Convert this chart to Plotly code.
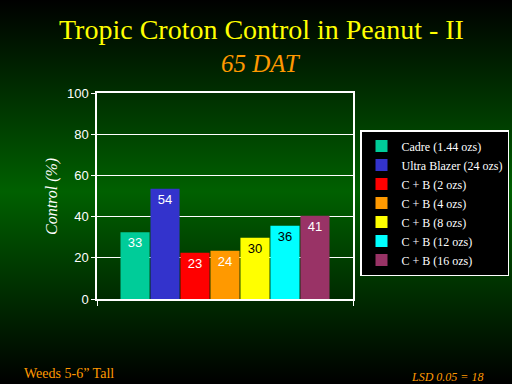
import base64
import plotly.graph_objects as go

# ---- data ----
series_names = ["Cadre (1.44 ozs)", "Ultra Blazer (24 ozs)", "C + B (2 ozs)",
                "C + B (4 ozs)", "C + B (8 ozs)", "C + B (12 ozs)", "C + B (16 ozs)"]
control_values = [32.4, 53.5, 22.5, 23.4, 29.7, 35.5, 40.4]
value_labels = ["33", "54", "23", "24", "30", "36", "41"]
bar_colors = ["#00CC99", "#3333CC", "#FF0000", "#FF9900", "#FFFF00", "#00FFFF", "#993366"]
label_colors = ["#FFFFFF", "#FFFFFF", "#FFFFFF", "#FFFFFF", "#000000", "#000000", "#FFFFFF"]
y_ticks = [0, 20, 40, 60, 80, 100]

W, H = 512, 384
L, R, T, B = 97, 159, 93, 85
PW, PH = W - L - R, H - T - B


def py(ypx):
    return (H - B - ypx) / PH


def px(xpx):
    return (xpx - L) / PW


fig = go.Figure()
for name, val, lab, col, lcol in zip(series_names, control_values, value_labels, bar_colors, label_colors):
    fig.add_trace(go.Bar(
        x=[0], y=[val], name=name, text=[lab],
        marker=dict(color=col, line=dict(width=0)),
        textposition="inside", insidetextanchor="end", textangle=0,
        textfont=dict(color=lcol, size=13, family="Liberation Sans"),
        hoverinfo="skip",
    ))

svg = ('<svg xmlns="http://www.w3.org/2000/svg" width="512" height="384" viewBox="0 0 512 384" preserveAspectRatio="none">'
       '<defs><linearGradient id="g" x1="0" y1="0" x2="0" y2="1">'
       '<stop offset="0" stop-color="#000000"/>'
       '<stop offset="0.5" stop-color="#006000"/>'
       '<stop offset="1" stop-color="#000000"/>'
       '</linearGradient></defs><rect width="512" height="384" fill="url(#g)"/></svg>')
bg_uri = "data:image/svg+xml;base64," + base64.b64encode(svg.encode()).decode()

fig.update_layout(
    width=W, height=H,
    margin=dict(l=L, r=R, t=T, b=B, pad=0, autoexpand=False),
    paper_bgcolor="#000000", plot_bgcolor="#000000",
    barmode="group", bargap=0.18, bargroupgap=0.03,
    showlegend=True,
    legend=dict(
        x=px(360), y=py(130), xanchor="left", yanchor="top",
        bgcolor="#000000", bordercolor="#FFFFFF", borderwidth=1.5,
        font=dict(family="Liberation Serif", size=12, color="#FFFFFF"),
        itemwidth=30, tracegroupgap=0,
    ),
    xaxis=dict(
        range=[-0.5, 0.5], tickvals=[-0.5, 0.5], ticktext=["", ""],
        ticks="outside", ticklen=5, tickcolor="#FFFFFF", tickwidth=1,
        showline=True, linecolor="#FFFFFF", linewidth=1.5, mirror=True,
        showgrid=False, zeroline=False, fixedrange=True,
    ),
    yaxis=dict(
        range=[0, 100], tickvals=y_ticks,
        ticks="outside", ticklen=4, tickcolor="#FFFFFF", tickwidth=1,
        tickfont=dict(family="Liberation Sans", size=13, color="#FFFFFF"),
        showline=True, linecolor="#FFFFFF", linewidth=1.5, mirror=True,
        showgrid=True, gridcolor="#FFFFFF", gridwidth=1.2,
        zeroline=False, fixedrange=True,
    ),
    images=[dict(
        source=bg_uri, xref="paper", yref="paper",
        x=px(0), y=py(0), sizex=W / PW, sizey=H / PH,
        xanchor="left", yanchor="top", sizing="stretch", layer="below",
    )],
    annotations=[
        dict(text="Tropic Croton Control in Peanut - II", x=px(261), y=py(30),
             xref="paper", yref="paper", showarrow=False, xanchor="center", yanchor="middle",
             font=dict(family="Liberation Serif", size=28, color="#FFFF00")),
        dict(text="<i>65 DAT</i>", x=px(261), y=py(63),
             xref="paper", yref="paper", showarrow=False, xanchor="center", yanchor="middle",
             font=dict(family="Liberation Serif", size=25, color="#FF9900")),
        dict(text="<i>Control (%)</i>", x=px(52), y=py(197), textangle=-90,
             xref="paper", yref="paper", showarrow=False, xanchor="center", yanchor="middle",
             font=dict(family="Liberation Serif", size=16, color="#FFFFFF")),
        dict(text="Weeds 5-6\u201d Tall", x=px(22), y=py(373),
             xref="paper", yref="paper", showarrow=False, xanchor="left", yanchor="middle",
             font=dict(family="Liberation Serif", size=14, color="#FF9900")),
        dict(text="<i>LSD 0.05 = 18</i>", x=px(485), y=py(377),
             xref="paper", yref="paper", showarrow=False, xanchor="right", yanchor="middle",
             font=dict(family="Liberation Serif", size=12, color="#FF9900")),
    ],
)

fig.write_html("out.html")
